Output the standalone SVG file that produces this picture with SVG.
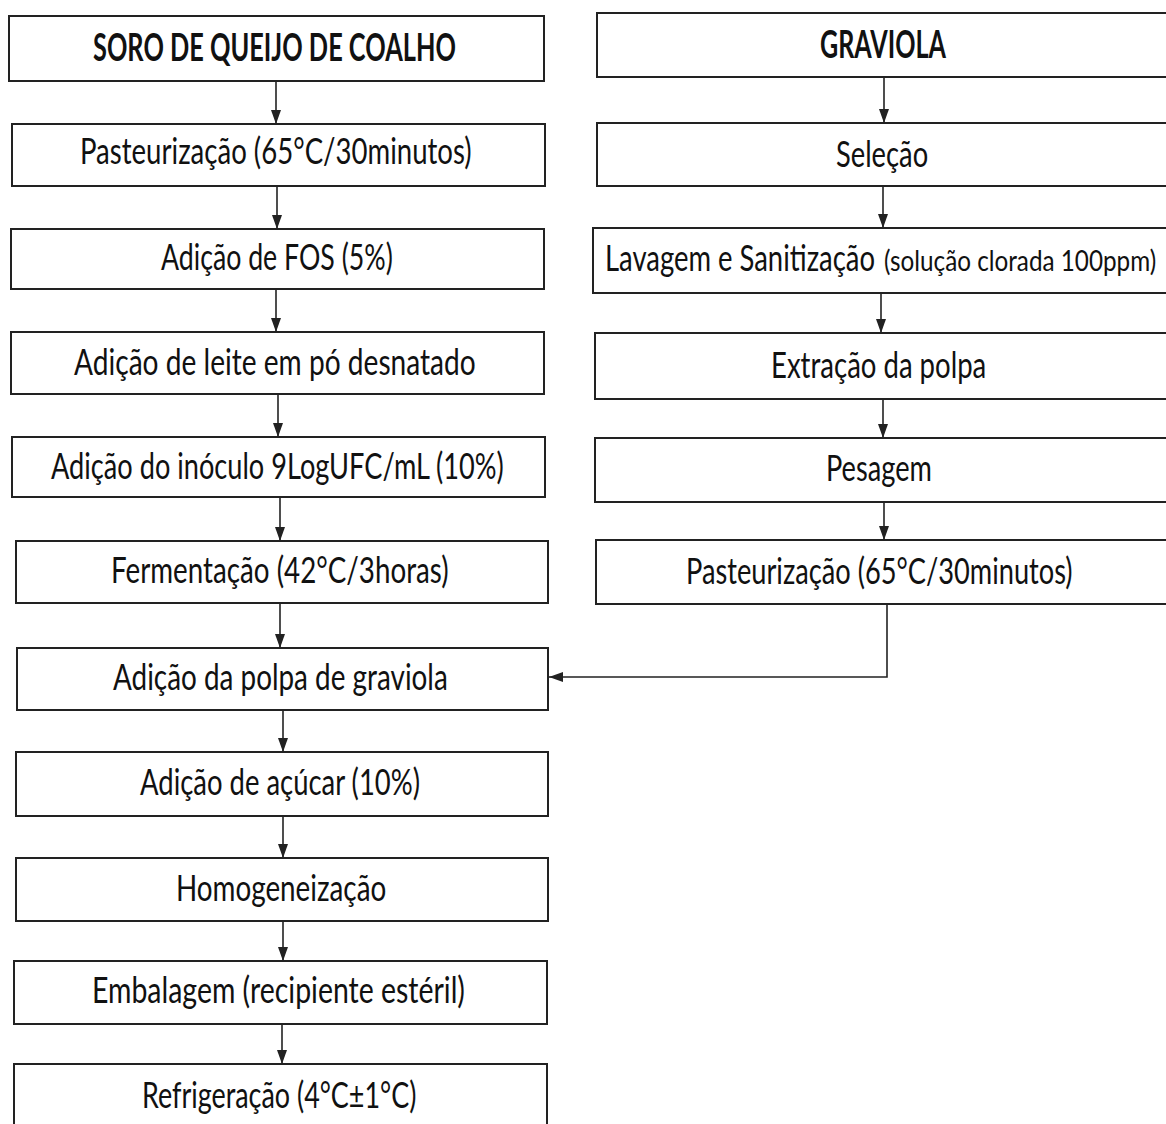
<svg xmlns="http://www.w3.org/2000/svg" width="1166" height="1124" viewBox="0 0 1166 1124">
<style>
.box{fill:#fff;stroke:#222;stroke-width:2}
.t{font-family:Lato,"Open Sans","Liberation Sans",sans-serif;font-size:37px;fill:#111}
.b{font-weight:bold;font-size:38px}
.s{font-size:28px}
.c{fill:none;stroke:#222;stroke-width:1.6}
</style>
<defs>
<marker id="ah" viewBox="0 0 14 10" refX="14" refY="5" markerWidth="14" markerHeight="10" markerUnits="userSpaceOnUse" orient="auto">
<path d="M0,0 L14,5 L0,10 z" fill="#222"/>
</marker>
</defs>
<rect width="1166" height="1124" fill="#fff"/>
<g id="connectors">
<line class="c" x1="276" y1="81" x2="276" y2="124" marker-end="url(#ah)"/>
<line class="c" x1="277" y1="186" x2="277" y2="229" marker-end="url(#ah)"/>
<line class="c" x1="276" y1="289" x2="276" y2="332" marker-end="url(#ah)"/>
<line class="c" x1="278" y1="394" x2="278" y2="437" marker-end="url(#ah)"/>
<line class="c" x1="280" y1="497" x2="280" y2="541" marker-end="url(#ah)"/>
<line class="c" x1="280" y1="603" x2="280" y2="648" marker-end="url(#ah)"/>
<line class="c" x1="283" y1="710" x2="283" y2="752" marker-end="url(#ah)"/>
<line class="c" x1="283" y1="816" x2="283" y2="858" marker-end="url(#ah)"/>
<line class="c" x1="283" y1="921" x2="283" y2="961" marker-end="url(#ah)"/>
<line class="c" x1="282" y1="1024" x2="282" y2="1064" marker-end="url(#ah)"/>
<line class="c" x1="884" y1="77" x2="884" y2="123" marker-end="url(#ah)"/>
<line class="c" x1="883" y1="186" x2="883" y2="228" marker-end="url(#ah)"/>
<line class="c" x1="881" y1="293" x2="881" y2="333" marker-end="url(#ah)"/>
<line class="c" x1="883" y1="399" x2="883" y2="438" marker-end="url(#ah)"/>
<line class="c" x1="884" y1="502" x2="884" y2="540" marker-end="url(#ah)"/>
<polyline class="c" points="887,604 887,677 549,677" marker-end="url(#ah)"/>
</g>
<g id="soro"><rect class="box" x="9" y="16" width="535" height="65"/><text class="t b" transform="matrix(0.72,0,0,1,93,61)" textLength="504" lengthAdjust="spacingAndGlyphs">SORO DE QUEIJO DE COALHO</text></g>
<g id="past1"><rect class="box" x="12" y="124" width="533" height="62"/><text class="t" transform="matrix(0.72,0,0,1,80,164)" textLength="544" lengthAdjust="spacingAndGlyphs">Pasteurização (65°C/30minutos)</text></g>
<g id="fos"><rect class="box" x="11" y="229" width="533" height="60"/><text class="t" transform="matrix(0.72,0,0,1,161,270)" textLength="322" lengthAdjust="spacingAndGlyphs">Adição de FOS (5%)</text></g>
<g id="leite"><rect class="box" x="11" y="332" width="533" height="62"/><text class="t" transform="matrix(0.72,0,0,1,74,375)" textLength="558" lengthAdjust="spacingAndGlyphs">Adição de leite em pó desnatado</text></g>
<g id="inoculo"><rect class="box" x="12" y="437" width="533" height="60"/><text class="t" transform="matrix(0.72,0,0,1,51,479)" textLength="629" lengthAdjust="spacingAndGlyphs">Adição do inóculo 9LogUFC/mL (10%)</text></g>
<g id="ferment"><rect class="box" x="16" y="541" width="532" height="62"/><text class="t" transform="matrix(0.72,0,0,1,111,583)" textLength="469" lengthAdjust="spacingAndGlyphs">Fermentação (42°C/3horas)</text></g>
<g id="polpa"><rect class="box" x="17" y="648" width="531" height="62"/><text class="t" transform="matrix(0.72,0,0,1,113,690)" textLength="465" lengthAdjust="spacingAndGlyphs">Adição da polpa de graviola</text></g>
<g id="acucar"><rect class="box" x="16" y="752" width="532" height="64"/><text class="t" transform="matrix(0.72,0,0,1,140,795)" textLength="389" lengthAdjust="spacingAndGlyphs">Adição de açúcar (10%)</text></g>
<g id="homog"><rect class="box" x="16" y="858" width="532" height="63"/><text class="t" transform="matrix(0.72,0,0,1,176,901)" textLength="292" lengthAdjust="spacingAndGlyphs">Homogeneização</text></g>
<g id="embal"><rect class="box" x="14" y="961" width="533" height="63"/><text class="t" transform="matrix(0.72,0,0,1,92,1003)" textLength="518" lengthAdjust="spacingAndGlyphs">Embalagem (recipiente estéril)</text></g>
<g id="refrig"><rect class="box" x="14" y="1064" width="533" height="80"/><text class="t" transform="matrix(0.72,0,0,1,142,1108)" textLength="381" lengthAdjust="spacingAndGlyphs">Refrigeração (4°C±1°C)</text></g>
<g id="graviola"><rect class="box" x="597" y="13" width="580" height="64"/><text class="t b" transform="matrix(0.72,0,0,1,820,58)" textLength="175" lengthAdjust="spacingAndGlyphs">GRAVIOLA</text></g>
<g id="selecao"><rect class="box" x="597" y="123" width="580" height="63"/><text class="t" transform="matrix(0.72,0,0,1,836,167)" textLength="128" lengthAdjust="spacingAndGlyphs">Seleção</text></g>
<g id="lavagem"><rect class="box" x="593" y="228" width="584" height="65"/><text class="t" transform="matrix(0.72,0,0,1,605,271)" textLength="375" lengthAdjust="spacingAndGlyphs">Lavagem e Sanitização</text><text class="t s" transform="matrix(0.72,0,0,1,884,271)" textLength="378" lengthAdjust="spacingAndGlyphs">(solução clorada 100ppm)</text></g>
<g id="extracao"><rect class="box" x="595" y="333" width="582" height="66"/><text class="t" transform="matrix(0.72,0,0,1,771,378)" textLength="299" lengthAdjust="spacingAndGlyphs">Extração da polpa</text></g>
<g id="pesagem"><rect class="box" x="595" y="438" width="582" height="64"/><text class="t" transform="matrix(0.72,0,0,1,826,481)" textLength="147" lengthAdjust="spacingAndGlyphs">Pesagem</text></g>
<g id="past2"><rect class="box" x="596" y="540" width="581" height="64"/><text class="t" transform="matrix(0.72,0,0,1,686,584)" textLength="537" lengthAdjust="spacingAndGlyphs">Pasteurização (65°C/30minutos)</text></g>
</svg>
